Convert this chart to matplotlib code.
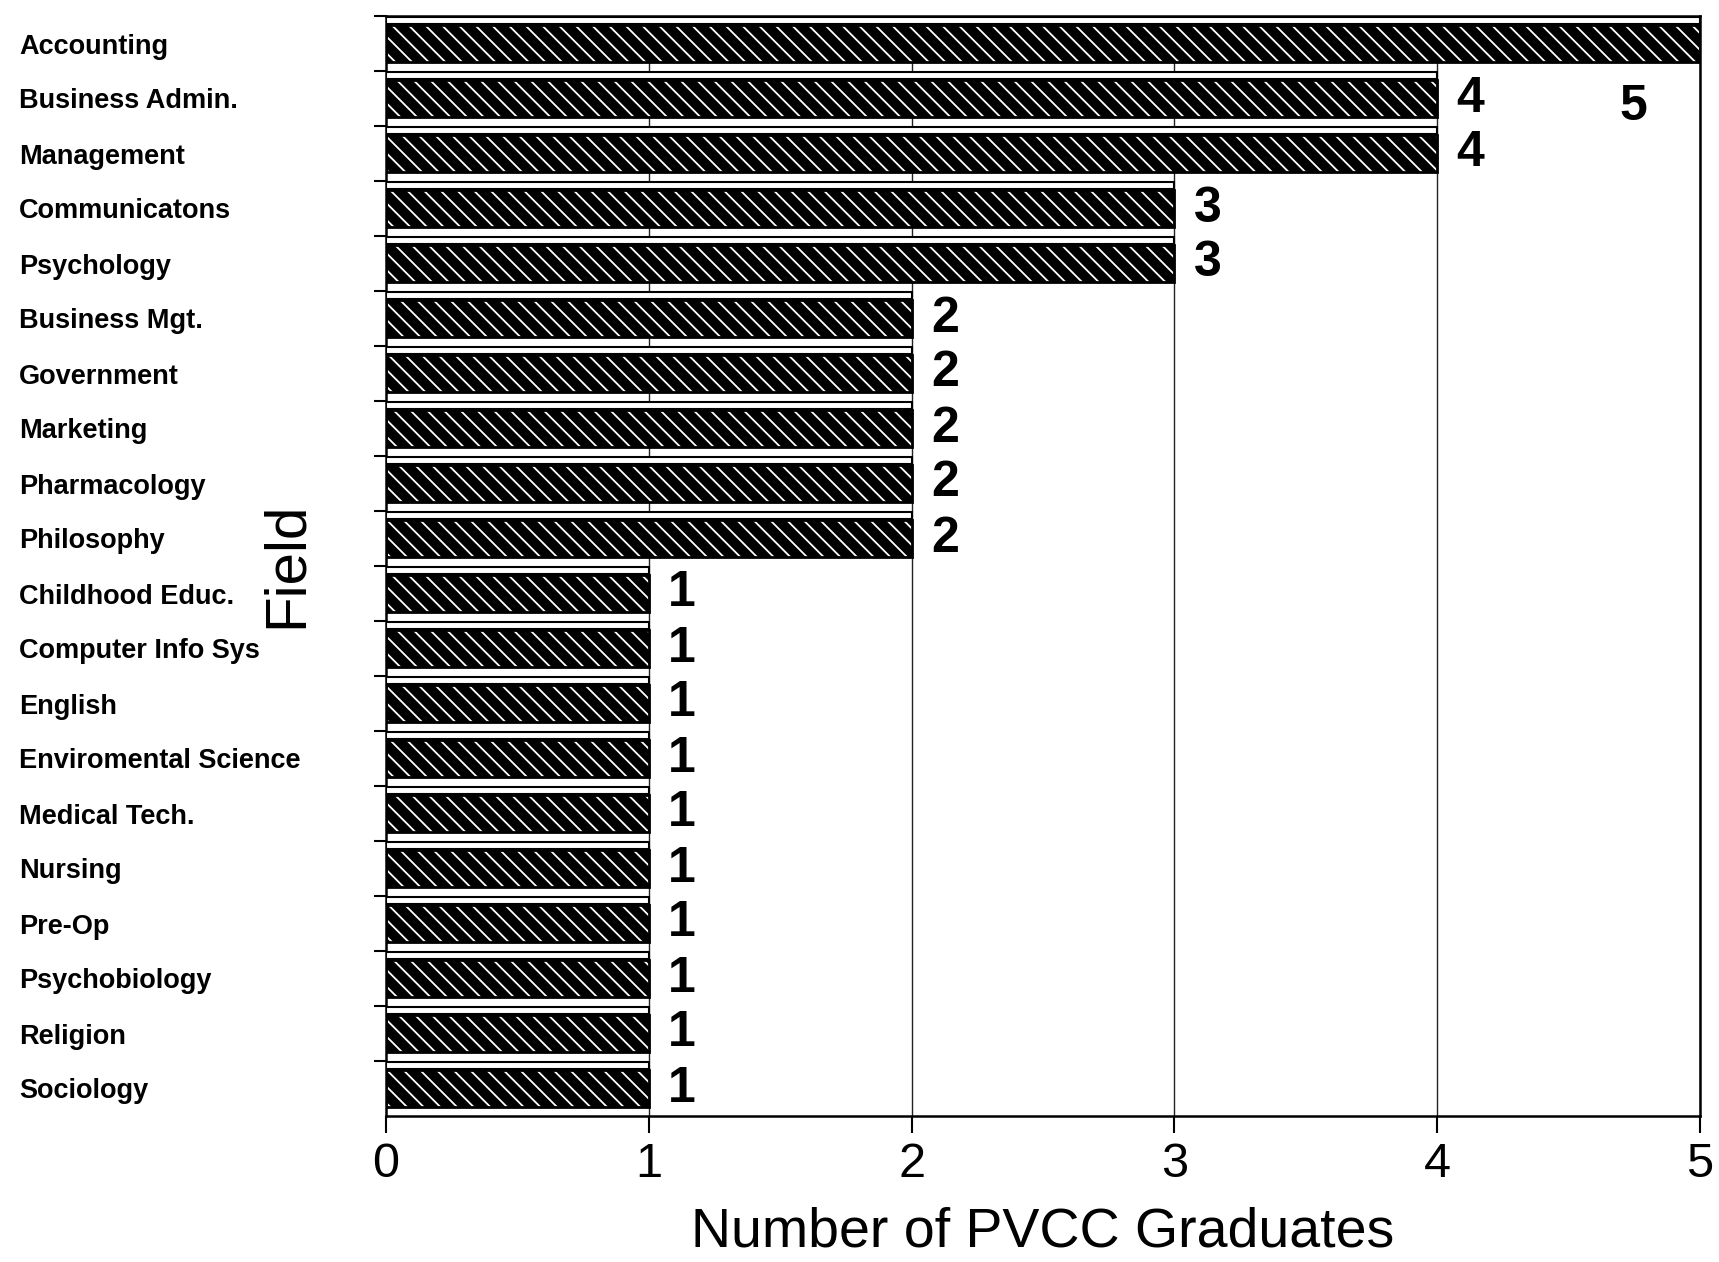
#horizontal bar chart of PVCC graduates by field
#scanned-looking dark hatched bars with a white "3d" top face

import numpy as np
import matplotlib.pyplot as plt

plt.rcParams['font.family'] = ['Liberation Sans', 'DejaVu Sans']
plt.rcParams['hatch.linewidth'] = 1.3

#data
fields = ['Accounting', 'Business Admin.', 'Management', 'Communicatons',
          'Psychology', 'Business Mgt.', 'Government', 'Marketing',
          'Pharmacology', 'Philosophy', 'Childhood Educ.', 'Computer Info Sys',
          'English', 'Enviromental Science', 'Medical Tech.', 'Nursing',
          'Pre-Op', 'Psychobiology', 'Religion', 'Sociology']
graduates = [5, 4, 4, 3, 3, 2, 2, 2, 2, 2, 1, 1, 1, 1, 1, 1, 1, 1, 1, 1]
xticks = [0, 1, 2, 3, 4, 5]

W, H = 1719, 1262
fig = plt.figure(figsize=(W / 100, H / 100), dpi=100)
ax = fig.add_axes([386 / W, 1 - 1116 / H, (1700 - 386) / W, (1116 - 16) / H])

ypos = np.arange(len(fields))

# grid behind the bars
for x in xticks[1:]:
    ax.axvline(x, color='#222222', lw=1.0, zorder=0)

# dark face with white hatching, then black outline on top
ax.barh(ypos, graduates, height=0.66, color='black', edgecolor='white',
        hatch='\\\\', linewidth=0, zorder=2)
ax.barh(ypos, graduates, height=0.66, fill=False, edgecolor='black',
        linewidth=2, zorder=3)
# white top strip (3d top face)
ax.barh(ypos - 0.42, graduates, height=0.14, color='white', edgecolor='black',
        linewidth=1.5, zorder=3)

# value labels
for i, v in enumerate(graduates):
    if v == max(graduates):
        ax.annotate(str(v), xy=(v, i + 1.15), xytext=(-48, 0),
                    textcoords='offset points', ha='center', va='center',
                    fontsize=36, fontweight='bold')
    else:
        ax.annotate(str(v), xy=(v, i), xytext=(14, 0),
                    textcoords='offset points', ha='left', va='center',
                    fontsize=36, fontweight='bold')

ax.set_xlim(0, 5)
ax.set_ylim(len(fields) - 0.5, -0.5)

ax.set_xticks(xticks)
ax.set_xticklabels([str(t) for t in xticks], fontsize=35)
ax.tick_params(axis='x', length=12, width=1.5, pad=7, direction='out')

# ticks at the row boundaries, labels at row centres
ax.set_yticks(ypos - 0.5)
ax.set_yticklabels([])
ax.tick_params(axis='y', which='major', length=9, width=1.5, direction='out')
ax.set_yticks(ypos, minor=True)
ax.set_yticklabels(fields, minor=True, fontsize=19.5, fontweight='bold', ha='left')
ax.tick_params(axis='y', which='minor', length=0, pad=367 * 0.72)

for s in ax.spines.values():
    s.set_linewidth(1.8)

ax.set_xlabel('Number of PVCC Graduates', fontsize=40, labelpad=14)
fig.text(287 / W, 1 - 565 / H, 'Field', rotation=90, fontsize=42,
         ha='center', va='center')

fig.savefig('out.png', dpi=100)
